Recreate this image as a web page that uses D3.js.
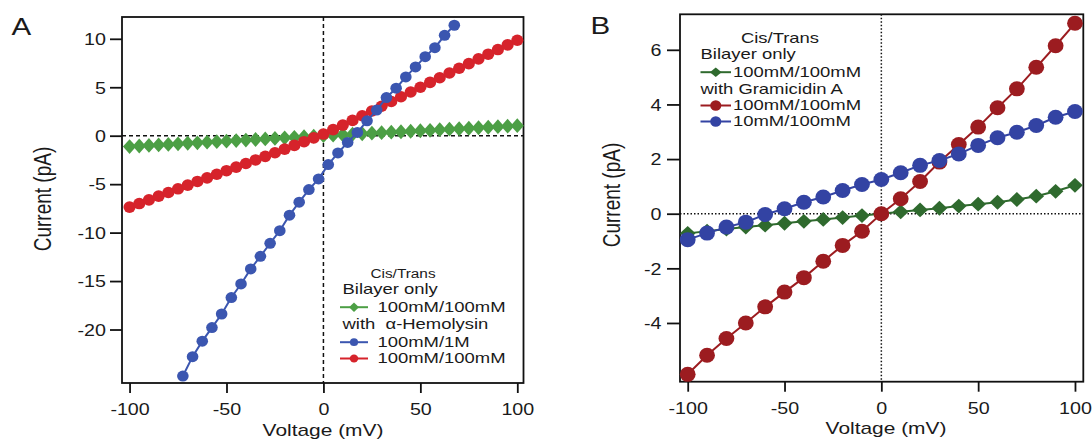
<!DOCTYPE html>
<html><head><meta charset="utf-8">
<script src="https://cdn.jsdelivr.net/npm/d3@7"></script>
<style>
html,body{margin:0;padding:0;background:#fff;}
svg{display:block;}
text{font-family:"Liberation Sans",Arial,Helvetica,sans-serif;fill:#1a1a1a;white-space:pre;}
</style></head>
<body>
<svg id="c" width="1092" height="440"></svg>
<script>
// ---------- DATA ----------
// Panel A: voltage (mV)
const voltsA = [-100,-95,-90,-85,-80,-75,-70,-65,-60,-55,-50,-45,-40,-35,-30,-25,-20,-15,-10,-5,0,5,10,15,20,25,30,35,40,45,50,55,60,65,70,75,80,85,90,95,100];
const bilayerA = [-1.12,-1.06,-1.0,-0.95,-0.9,-0.84,-0.78,-0.73,-0.67,-0.62,-0.56,-0.5,-0.45,-0.39,-0.33,-0.28,-0.22,-0.17,-0.11,-0.05,0.0,0.05,0.1,0.15,0.2,0.26,0.31,0.36,0.41,0.46,0.51,0.56,0.62,0.67,0.72,0.77,0.82,0.87,0.93,0.98,1.03];
const hemoSymA = [-7.37,-7.0,-6.62,-6.24,-5.86,-5.48,-5.1,-4.72,-4.35,-3.98,-3.61,-3.24,-2.87,-2.5,-2.13,-1.76,-1.38,-1.0,-0.62,-0.22,0.17,0.63,1.1,1.58,2.06,2.55,3.04,3.53,4.02,4.51,5.0,5.5,5.98,6.47,6.96,7.44,7.93,8.41,8.89,9.37,9.85];
const voltsA2 = [-72.5,-67.5,-62.5,-57.5,-52.5,-47.5,-42.5,-37.5,-32.5,-27.5,-22.5,-17.5,-12.5,-7.5,-2.5,2.5,7.5,12.5,17.5,22.5,27.5,32.5,37.5,42.5,47.5,52.5,57.5,62.5,67.5];
const hemoAsymA = [-24.8,-22.8,-21.2,-19.8,-18.4,-16.7,-15.3,-13.75,-12.45,-11.1,-9.8,-8.2,-6.86,-5.56,-4.46,-2.98,-1.78,-0.69,0.34,1.54,2.64,3.94,4.9,6.07,7.1,8.16,9.08,10.36,11.4];
const xTicksA = [-100,-50,0,50,100];
const yTicksA = [10,5,0,-5,-10,-15,-20];
const legendA = ["Cis/Trans","Bilayer only","100mM/100mM","with  \u03b1-Hemolysin","100mM/1M","100mM/100mM"];

// Panel B
const voltsB = [-100,-90,-80,-70,-60,-50,-40,-30,-20,-10,0,10,20,30,40,50,60,70,80,90,100];
const bilayerB = [-0.72,-0.64,-0.56,-0.49,-0.42,-0.35,-0.28,-0.21,-0.14,-0.07,0.0,0.07,0.14,0.2,0.28,0.35,0.42,0.52,0.64,0.82,1.04];
const gramSymB = [-5.88,-5.18,-4.57,-4.0,-3.41,-2.87,-2.34,-1.74,-1.16,-0.64,0.0,0.55,1.18,1.89,2.53,3.17,3.88,4.57,5.36,6.15,6.97];
const gramAsymB = [-0.95,-0.71,-0.49,-0.31,-0.03,0.18,0.42,0.61,0.85,1.07,1.25,1.5,1.77,1.95,2.19,2.5,2.78,2.98,3.23,3.53,3.74];
const xTicksB = [-100,-50,0,50,100];
const yTicksB = [6,4,2,0,-2,-4];
const legendB = ["Cis/Trans","Bilayer only","100mM/100mM","with Gramicidin A","100mM/100mM","10mM/100mM"];

// ---------- DRAWING ----------
const SX = 1.23;
const svg = d3.select("#c");

function stext(g, x, y, str, size, anchor){
  return g.append("text").attr("transform",`translate(${x},${y}) scale(${SX},1)`)
    .attr("font-size",size).attr("text-anchor",anchor||"start").text(str);
}
function diamond(w,h){ return `M0,${-h}L${w},0L0,${h}L${-w},0Z`; }

function panel(cfg){
  const g = svg.append("g");
  const x = d3.scaleLinear().domain(cfg.xd).range([cfg.l,cfg.r]);
  const y = d3.scaleLinear().domain(cfg.yd).range([cfg.b,cfg.t]);

  // zero lines
  g.append("line").attr("x1",cfg.l).attr("x2",cfg.r).attr("y1",y(0)).attr("y2",y(0))
    .attr("stroke","#111").attr("stroke-width",1.5).attr("stroke-dasharray",cfg.dash);
  g.append("line").attr("x1",x(0)).attr("x2",x(0)).attr("y1",cfg.t).attr("y2",cfg.b)
    .attr("stroke","#111").attr("stroke-width",1.5).attr("stroke-dasharray",cfg.dash);

  // frame
  g.append("rect").attr("x",cfg.l).attr("y",cfg.t).attr("width",cfg.r-cfg.l).attr("height",cfg.b-cfg.t)
    .attr("fill","none").attr("stroke","#111").attr("stroke-width",1.8);

  // axes
  const ya = g.append("g").attr("transform",`translate(${cfg.l},0)`)
    .call(d3.axisLeft(y).tickValues(cfg.yt).tickSize(cfg.yTick).tickSizeOuter(0).tickFormat(d=>String(d)));
  const xa = g.append("g").attr("transform",`translate(0,${cfg.b})`)
    .call(d3.axisBottom(x).tickValues(cfg.xt).tickSize(10).tickSizeOuter(0).tickFormat(d=>String(d)));
  [ya,xa].forEach(a=>{ a.select(".domain").remove();
    a.selectAll(".tick line").attr("stroke","#111").attr("stroke-width",1.8); });
  ya.selectAll(".tick text").attr("x",null).attr("dy",null).attr("font-size",16)
    .attr("font-family",null).attr("text-anchor","end")
    .attr("transform",`translate(${-cfg.yTick-cfg.yGap},5.8) scale(${SX},1)`);
  xa.selectAll(".tick text").attr("y",null).attr("dy",null).attr("font-size",16)
    .attr("font-family",null).attr("text-anchor","middle")
    .attr("transform",`translate(0,${cfg.xLab}) scale(${SX},1)`);
  ya.attr("font-family",null); xa.attr("font-family",null);

  // axis titles
  stext(g, cfg.xTitleX, cfg.xTitleY, "Voltage (mV)", 17, "middle");
  g.append("text").attr("transform",`translate(${cfg.yTitleX},${cfg.yTitleY}) scale(${SX},1) rotate(-90)`)
    .attr("font-size",19).attr("text-anchor","middle").text("Current (pA)");
  // panel letter
  stext(g, cfg.letterX, cfg.letterY, cfg.letter, 24, "start");

  // series
  cfg.series.forEach(s=>{
    const pts = s.v.map((v,i)=>[x(v), y(s.i[i])]);
    g.append("path").attr("d",d3.line()(pts)).attr("fill","none").attr("stroke",s.c).attr("stroke-width",2);
    if(s.m==="d"){
      g.selectAll(null).data(pts).enter().append("path")
        .attr("transform",d=>`translate(${d[0]},${d[1]})`).attr("d",diamond(s.w,s.h)).attr("fill",s.c);
    } else {
      g.selectAll(null).data(pts).enter().append("ellipse")
        .attr("cx",d=>d[0]).attr("cy",d=>d[1]).attr("rx",s.rx).attr("ry",s.ry).attr("fill",s.c);
    }
  });

  // legend
  const L = cfg.leg;
  stext(g, L.titleX, L.rows[0], cfg.legText[0], L.titleSize, "middle");
  stext(g, L.hx, L.rows[1], cfg.legText[1], 15, "start");
  stext(g, L.hx, L.rows[3], cfg.legText[3], 15, "start");
  [2,4,5].forEach((row,k)=>{
    const s = cfg.series[L.map[k]];
    const ly = L.rows[row]-4.5;
    g.append("line").attr("x1",L.lx1).attr("x2",L.lx2).attr("y1",ly).attr("y2",ly).attr("stroke",s.c).attr("stroke-width",2);
    const mx=(L.lx1+L.lx2)/2;
    if(s.m==="d") g.append("path").attr("transform",`translate(${mx},${ly})`).attr("d",diamond(s.w*0.75,s.h*0.65)).attr("fill",s.c);
    else g.append("ellipse").attr("cx",mx).attr("cy",ly).attr("rx",s.rx*0.7).attr("ry",s.ry*0.7).attr("fill",s.c);
    stext(g, L.tx, L.rows[row], cfg.legText[row], 15, "start");
  });
}

panel({
  l:122, r:523.5, t:17, b:383,
  xd:[-103.9,103.2], yd:[-25.52,12.25],
  xt:xTicksA, yt:yTicksA, yTick:12, yGap:4, xLab:32,
  dash:"4,3",
  xTitleX:323, xTitleY:436, yTitleX:50.5, yTitleY:199,
  letter:"A", letterX:11.5, letterY:35,
  series:[
    {v:voltsA, i:bilayerA, c:"#4c9f45", m:"d", w:6.6, h:7.4},
    {v:voltsA, i:hemoSymA, c:"#d6232b", m:"c", rx:6.1, ry:5.8},
    {v:voltsA2, i:hemoAsymA, c:"#3b56b0", m:"c", rx:5.8, ry:5.5}
  ],
  legText:legendA,
  leg:{titleX:403, titleSize:12.5, hx:342.5, lx1:340, lx2:368, tx:377.5, map:[0,2,1],
       rows:[278.3,294,311.7,329,346.7,363]}
});

panel({
  l:680, r:1083.3, t:14.3, b:381.7,
  xd:[-103.98,104.3], yd:[-6.15,7.30],
  xt:xTicksB, yt:yTicksB, yTick:13, yGap:5.5, xLab:32,
  dash:"1.5,2",
  xTitleX:886, xTitleY:433.5, yTitleX:620, yTitleY:195,
  letter:"B", letterX:590.5, letterY:34.3,
  series:[
    {v:voltsB, i:bilayerB, c:"#2f6a2e", m:"d", w:7.8, h:7.4},
    {v:voltsB, i:gramSymB, c:"#9c1c20", m:"c", rx:7.9, ry:7.5},
    {v:voltsB, i:gramAsymB, c:"#3343a3", m:"c", rx:7.9, ry:7.5}
  ],
  legText:legendB,
  leg:{titleX:780, titleSize:15, hx:700.5, lx1:700.5, lx2:731, tx:733, map:[0,1,2],
       rows:[42.7,59.3,76.7,94,110,126]}
});
</script>
</body></html>
